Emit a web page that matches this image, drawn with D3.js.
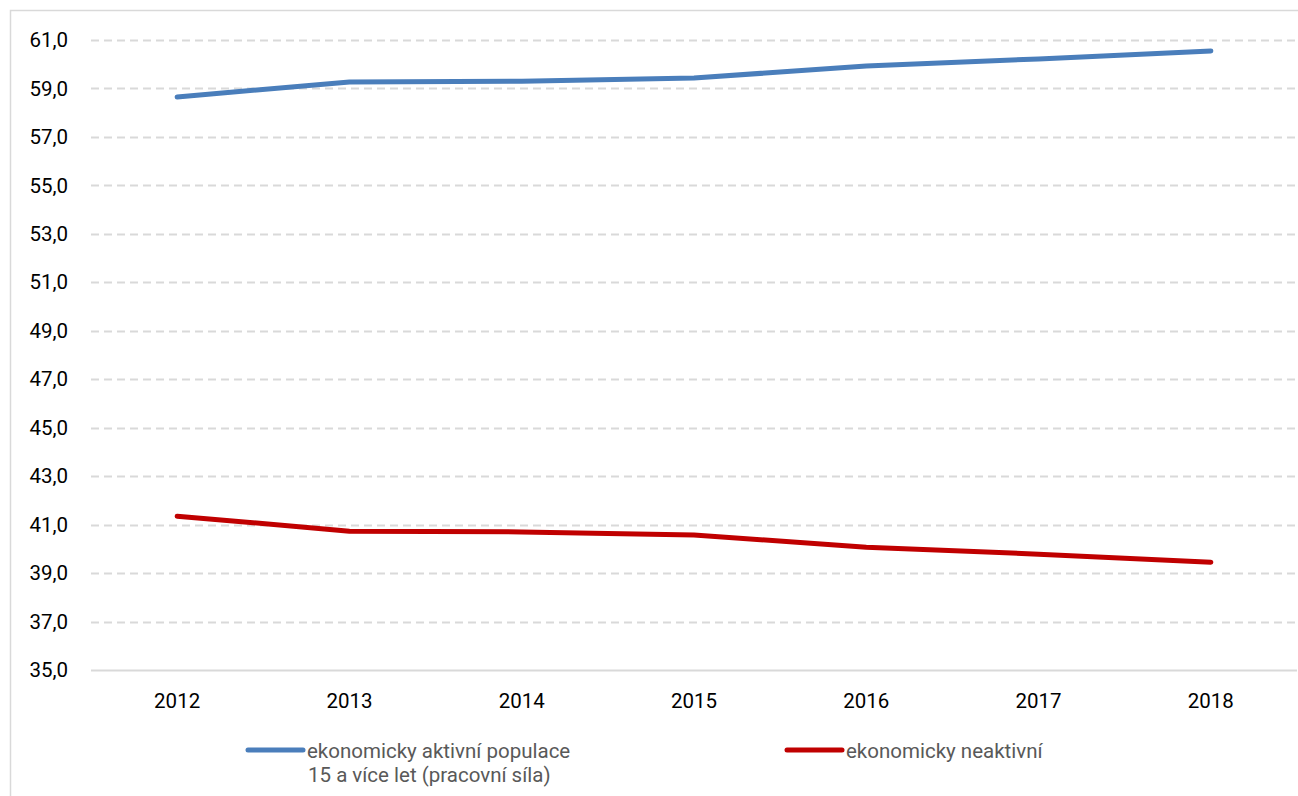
<!DOCTYPE html>
<html lang="cs">
<head>
    <meta charset="UTF-8">
    <title>Ekonomická aktivita</title>
    <style>
        body { margin: 0; background: #ffffff; }
        svg { display: block; }
    </style>
    <script src="https://d3js.org/d3.v7.min.js"></script>
</head>
<body>
    <svg width="1298" height="796"></svg>
    <script>
        const years = ["2012", "2013", "2014", "2015", "2016", "2017", "2018"];
        const aktivni = [58.65, 59.27, 59.30, 59.43, 59.93, 60.22, 60.55];
        const neaktivni = [41.35, 40.73, 40.70, 40.57, 40.07, 39.78, 39.45];
        const yTicks = [35, 37, 39, 41, 43, 45, 47, 49, 51, 53, 55, 57, 59, 61];
        const seriesNames = [["ekonomicky aktivní populace", "15 a více let (pracovní síla)"], ["ekonomicky neaktivní"]];
        const colors = ["#4a7ebb", "#c00000"];

        const svg = d3.select("svg");
        const font = "Roboto, 'Open Sans', sans-serif";
        const fontSize = 20.5;

        // chart border
        svg.append("rect")
            .attr("x", 10.5).attr("y", 10.5)
            .attr("width", 1300).attr("height", 800)
            .attr("fill", "none")
            .attr("stroke", "#d9d9d9")
            .attr("stroke-width", 1.5);

        const x = d3.scaleBand().domain(years).range([91, 1297]);
        const y = d3.scaleLinear().domain([35, 61]).range([670, 40]);

        // gridlines
        svg.append("g").selectAll("line")
            .data(yTicks)
            .join("line")
            .attr("x1", 91).attr("x2", 1297)
            .attr("y1", d => Math.round(y(d)) + 0.5)
            .attr("y2", d => Math.round(y(d)) + 0.5)
            .attr("stroke", "#d9d9d9")
            .attr("stroke-width", 2)
            .attr("stroke-dasharray", d => d === 35 ? null : "8,5");

        // y labels
        svg.append("g").selectAll("text")
            .data(yTicks)
            .join("text")
            .attr("x", 68)
            .attr("y", d => y(d))
            .attr("dy", "0.35em")
            .attr("text-anchor", "end")
            .attr("font-family", font)
            .attr("font-size", fontSize)
            .attr("fill", "#000")
            .text(d => d3.format(".1f")(d).replace(".", ","));

        // x labels
        svg.append("g").selectAll("text")
            .data(years)
            .join("text")
            .attr("x", d => x(d) + x.bandwidth() / 2)
            .attr("y", 708)
            .attr("text-anchor", "middle")
            .attr("font-family", font)
            .attr("font-size", fontSize)
            .attr("fill", "#000")
            .text(d => d);

        const line = d3.line()
            .x((d, i) => x(years[i]) + x.bandwidth() / 2)
            .y(d => y(d));

        [aktivni, neaktivni].forEach((s, i) => {
            svg.append("path")
                .datum(s)
                .attr("d", line)
                .attr("fill", "none")
                .attr("stroke", colors[i])
                .attr("stroke-width", 5)
                .attr("stroke-linecap", "round")
                .attr("stroke-linejoin", "round");
        });

        // legend
        const legendX = [248, 787];
        seriesNames.forEach((names, i) => {
            const g = svg.append("g");
            g.append("line")
                .attr("x1", legendX[i]).attr("x2", legendX[i] + 55)
                .attr("y1", 750).attr("y2", 750)
                .attr("stroke", colors[i])
                .attr("stroke-width", 5)
                .attr("stroke-linecap", "round");
            const txt = g.append("text")
                .attr("y", 757.5)
                .attr("font-family", font)
                .attr("font-size", fontSize)
                .attr("fill", "#595959");
            names.forEach((t, j) => {
                txt.append("tspan")
                    .attr("x", legendX[i] + (j === 0 ? 59 : 60))
                    .attr("dy", j === 0 ? 0 : 24.5)
                    .text(t);
            });
        });
    </script>
</body>
</html>
